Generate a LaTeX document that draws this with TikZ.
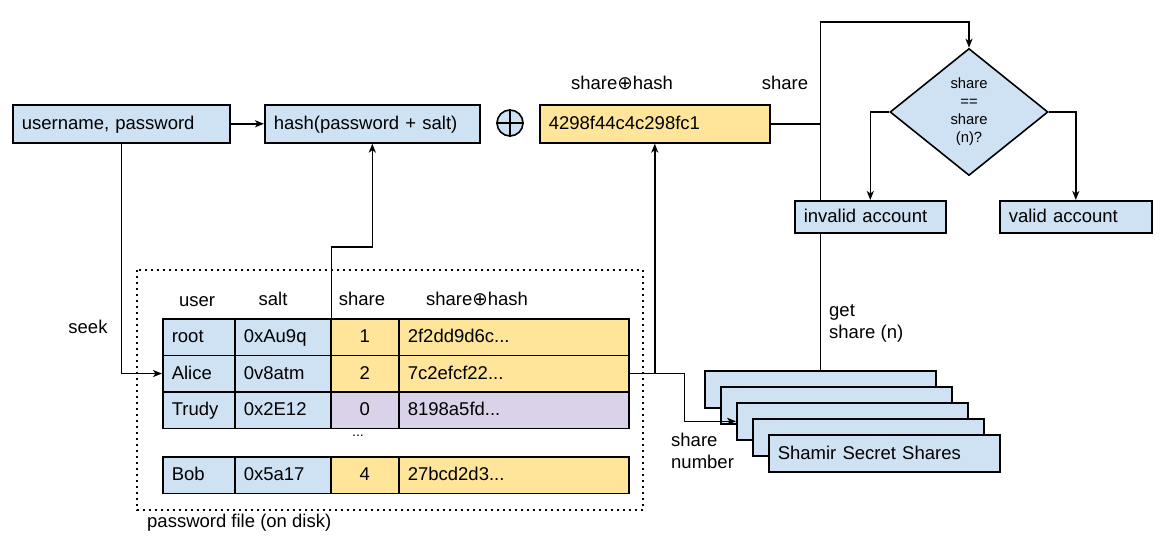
\documentclass[tikz,border=0pt]{standalone}
\usepackage{fontspec}
\setmainfont{Liberation Sans}
\newfontfamily\symfont{DejaVu Sans}
\usetikzlibrary{arrows.meta,shapes.geometric,positioning}
\definecolor{boxblue}{HTML}{CFE2F3}
\definecolor{boxyellow}{HTML}{FFE599}
\definecolor{boxpurple}{HTML}{D9D2E9}

\begin{document}
\begin{tikzpicture}[x=1pt, y=-1pt,
            every node/.style={font=\fontsize{18.5}{22}\selectfont},
            box/.style={rectangle, draw, line width=1.6pt, fill=boxblue, anchor=north west, inner xsep=9pt, inner ysep=0pt, minimum height=38pt, text height=15pt, text depth=3.5pt, align=left},
            cell/.style={box, minimum height=36.5pt},
            note/.style={inner sep=0pt, align=left},
            wire/.style={line width=1.6pt},
            arrow/.style={-{Stealth[length=9pt,width=7pt,inset=2.5pt]}, line width=1.6pt},
            filebox/.style={line width=1.6pt, dash pattern=on 1.6pt off 4.4pt}
        ]
            \useasboundingbox (0,0) rectangle (1174,535);

            % login and hashing
            \node[box, text width=199pt] (login) at (12,104) {username, password};
            \node[box, text width=197pt] (hash) at (264,104) {hash(password + salt)};
            \node[circle, draw, line width=1.6pt, fill=boxblue, minimum size=26pt, inner sep=0pt] (xor) at (510,123) {};
            \draw[wire] (xor.north) -- (xor.south) (xor.west) -- (xor.east);
            \node[box, fill=boxyellow, text width=212pt] (stored) at (539,104) {4298f44c4c298fc1};
            \node[note] at (622,83) {share{\symfont ⊕}hash};
            \node[note] at (785,83) {share};

            % check
            \node[diamond, draw, line width=1.6pt, fill=boxblue, minimum width=158pt, minimum height=127pt, inner sep=0pt, align=center, font=\fontsize{14.8}{18}\selectfont] (check) at (969,112) {share\\==\\share\\(n)?};

            % password file
            \draw[filebox] (137,270) rectangle (643,510);
            \node[note, anchor=west] at (147,523) {password file (on disk)};
            \node at (197,302) {user};
            \node at (273,299) {salt};
            \node at (362,299) {share};
            \node at (477,299) {share{\symfont ⊕}hash};
            \foreach \i/\usr/\slt/\nr/\val/\ytop/\col in {1/root/0xAu9q/1/2f2dd9d6c/318/boxyellow, 2/Alice/0v8atm/2/7c2efcf22/354.5/boxyellow, 3/Trudy/0x2E12/0/8198a5fd/391/boxpurple, 4/Bob/0x5a17/4/27bcd2d3/456/boxyellow}{
                \node[cell, text width=54pt] (user\i) at (162,\ytop) {\usr};
                \node[cell, text width=78pt] (salt\i) at (234,\ytop) {\slt};
                \node[cell, fill=\col, text width=50pt, align=center] (nr\i) at (330,\ytop) {\nr};
                \node[cell, fill=\col, text width=212pt] (xh\i) at (398,\ytop) {\val...};
            }
            \node[font=\fontsize{14}{16}\selectfont] at (358,436) {...};

            % secret shares
            \foreach \k in {0,1,2,3}
                \node[box, text width=213pt, minimum height=37pt] (shares\k) at (704+16*\k, 370+16*\k) {};
            \node[box, text width=213pt, minimum height=37pt] (shares4) at (768,434) {Shamir Secret Shares};

            \draw[arrow] (login) -- (hash);
            \draw[arrow] (login.south) |- (user2.west);
            \node[note] at (88,327) {seek};
            \draw[arrow] (salt1.north east) -- ++(0,-71) -| (hash.south);
            \draw[arrow] (xh2.east) -| (stored.south);
            \draw[arrow] (xh2.east) -- ++(55,0) |- (shares2.west);
            \node[note, anchor=west] at (671,451) {share\\number};

            \draw[arrow] (shares0.north) -- ++(0,-348) -| (check.north);
            \draw[wire] (stored.east) -- (stored.east -| shares0.north);
            \node[note, anchor=west] at (829,323) {get\\share (n)};

            \node[box, text width=133pt, minimum height=32pt] (invalid) at (794,200) {invalid account};
            \node[box, text width=134pt, minimum height=32pt] (valid) at (999,200) {valid account};
            \draw[arrow] (check.west) -| (invalid.north);
            \draw[arrow] (check.east) -| (valid.north);
        \end{tikzpicture}
\end{document}
